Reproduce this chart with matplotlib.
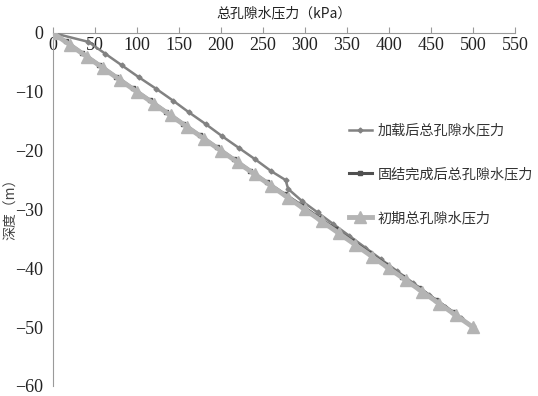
import numpy as np
import matplotlib.pyplot as plt

plt.rcParams['font.family'] = ['Liberation Serif', 'DejaVu Serif']

# 深度 (m) 与总孔隙水压力 (kPa)
depth_load = [0, 1.5, 3.5, 5.5, 7.5, 9.5, 11.5, 13.5, 15.5, 17.5, 19.5, 21.5, 23.5, 25.0,
              26.5, 28.5, 30.5, 32.5, 34.5, 36.5, 38.5, 40.5, 42.5, 44.5, 46.5, 48.5, 50]
p_load = [0, 42, 62, 82, 102, 123, 143, 162, 182, 201, 221, 241, 260, 277,
          280, 296, 315, 334, 353, 372, 391, 410, 429, 448, 467, 486, 500]

depth_cons = [0, 1.4, 3.4, 5.4, 7.4, 9.4, 11.4, 13.4, 15.4, 17.4, 19.4, 21.4, 23.4, 25.4,
              27.4, 29.4, 31.4, 33.4, 35.4, 37.4, 39.4, 41.4, 43.4, 45.4, 47.4, 50]
p_cons = [0, 15, 35, 55, 75, 95, 115, 135, 155, 175, 195, 215, 235, 255,
          276, 297, 317, 337, 357, 377, 397, 416, 436, 456, 476, 500]

depth_init = [0, 2, 4, 6, 8, 10, 12, 14, 16, 18, 20, 22, 24, 26,
              28, 30, 32, 34, 36, 38, 40, 42, 44, 46, 48, 50]
p_init = [0, 20, 40, 60, 80, 100, 120, 140, 160, 180, 200, 220, 240, 260,
          280, 300, 320, 340, 360, 380, 400, 420, 440, 460, 480, 500]

cjk = ['Noto Sans CJK SC', 'DejaVu Sans']

fig = plt.figure(figsize=(5.38, 3.96), dpi=100)
ax = fig.add_axes([0.0985, 0.0253, 0.8585, 0.8914])

ax.plot(p_load, -np.array(depth_load), color='#828282', lw=1.8, marker='D', ms=2.5,
        label='加载后总孔隙水压力', zorder=3)
ax.plot(p_cons, -np.array(depth_cons), color='#505050', lw=2.2, marker='s', ms=3,
        label='固结完成后总孔隙水压力', zorder=3)
ax.plot(p_init, -np.array(depth_init), color='#b4b4b4', lw=3.5, marker='^', ms=9,
        label='初期总孔隙水压力', zorder=4)

ax.set_xlim(0, 550)
ax.set_ylim(-60, 0)
ax.set_xticks(np.arange(0, 551, 50))
ax.set_yticks(np.arange(-60, 1, 10))

for s in ['top', 'right']:
    ax.spines[s].set_visible(False)
ax.spines['bottom'].set_position(('data', 0))
ax.spines['bottom'].set_color('#9a9a9a')
ax.spines['left'].set_color('#9a9a9a')
ax.tick_params(axis='x', direction='in', length=4, color='#9a9a9a', pad=3)
ax.tick_params(axis='y', length=0, pad=7)
for lab in ax.get_xticklabels() + ax.get_yticklabels():
    lab.set_color('#222222')
    lab.set_fontfamily('Liberation Serif')
    lab.set_fontsize(13)

fig.text(0.527, 0.965, '总孔隙水压力（kPa）', ha='center', va='center', fontsize=10,
         family=cjk, color='#222222')
fig.text(0.02, 0.48, '深度（m）', ha='center', va='center', rotation=90, fontsize=10,
         family=cjk, color='#444444')

leg = ax.legend(loc='upper left', bbox_to_anchor=(0.625, 0.72), bbox_transform=fig.transFigure,
                frameon=False, handlelength=1.6, handletextpad=0.4, labelspacing=2.1,
                prop={'family': cjk, 'size': 10.2})
for t in leg.get_texts():
    t.set_color('#333333')

fig.savefig('out.png', dpi=100)
